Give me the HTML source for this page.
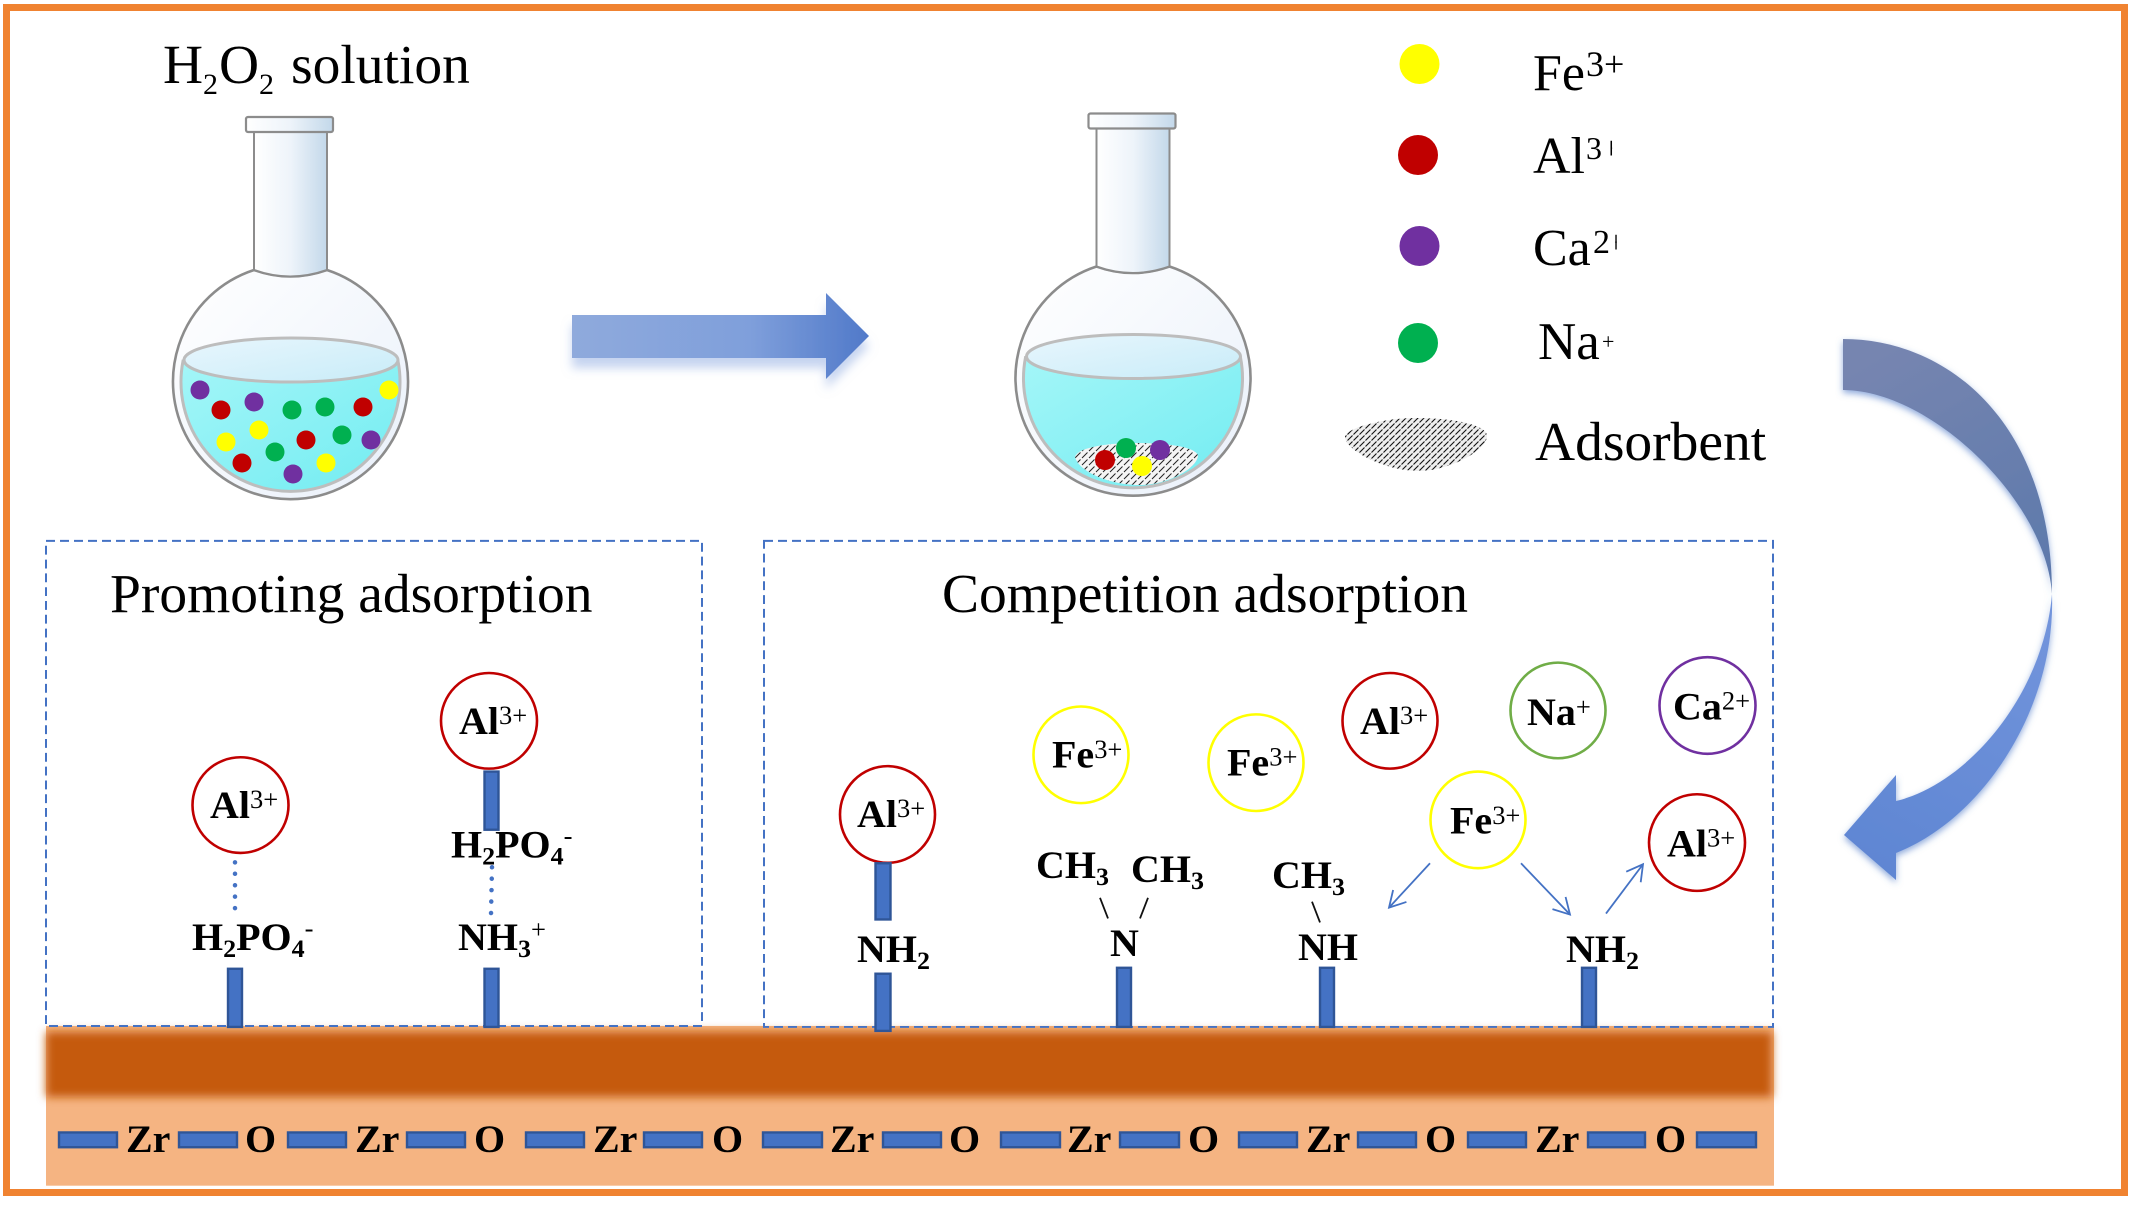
<!DOCTYPE html>
<html><head><meta charset="utf-8"><title>Adsorption diagram</title>
<style>
html,body{margin:0;padding:0;background:#fff}
svg{display:block}
text{font-family:"Liberation Serif",serif;fill:#000}
.t{font-size:55.5px}
.sub1{font-size:30px}
.l{font-size:52px}
.b{font-size:40px;font-weight:bold}
.s{font-size:26.5px;font-weight:normal}
.sb{font-size:26px;font-weight:bold}
.z{font-size:40px;font-weight:bold}
.bar{fill:#4472c4;stroke:#2f5597;stroke-width:2.4}
.ion{fill:none;stroke-width:2.6}
.dash{fill:none;stroke:#4472c4;stroke-width:2;stroke-dasharray:9 5}
.dot{fill:none;stroke:#4472c4;stroke-width:4.5;stroke-linecap:round;stroke-dasharray:.1 11.5}
.thin{fill:none;stroke:#4472c4;stroke-width:1.8;marker-end:url(#oh)}
</style></head><body>
<svg xmlns="http://www.w3.org/2000/svg" width="2133" height="1205" viewBox="0 0 2133 1205">
<defs>
<linearGradient id="neck" x1="0" x2="1" y1="0" y2="0"><stop offset="0" stop-color="#fff"/><stop offset=".5" stop-color="#eef4fa"/><stop offset="1" stop-color="#c3d8ea"/></linearGradient>
<linearGradient id="bulb" x1="0" x2="1" y1="0" y2="1"><stop offset="0" stop-color="#fff"/><stop offset="1" stop-color="#e9f0fa"/></linearGradient>
<linearGradient id="liq" x1="0" x2="1" y1="0" y2="1"><stop offset="0" stop-color="#a4f6f8"/><stop offset="1" stop-color="#72ecf1"/></linearGradient>
<linearGradient id="top" x1="0" x2="1" y1="0" y2="1"><stop offset="0" stop-color="#e8f6fd"/><stop offset="1" stop-color="#c8ecf8"/></linearGradient>
<linearGradient id="ar1" x1="0" x2="1" y1="0" y2="0"><stop offset="0" stop-color="#8faadc"/><stop offset=".6" stop-color="#7f9fdb"/><stop offset="1" stop-color="#5079c9"/></linearGradient>
<linearGradient id="ar2" gradientUnits="userSpaceOnUse" x1="1900" y1="340" x2="2050" y2="600"><stop offset="0" stop-color="#7685b0"/><stop offset="1" stop-color="#5b78ab"/></linearGradient>
<linearGradient id="ar3" gradientUnits="userSpaceOnUse" x1="2050" y1="600" x2="1900" y2="880"><stop offset="0" stop-color="#7395dc"/><stop offset="1" stop-color="#5f86d3"/></linearGradient>
<filter id="sh1" x="-10%" y="-30%" width="120%" height="180%"><feDropShadow dx="0" dy="10" stdDeviation="5" flood-color="#8aa8e0" flood-opacity=".5"/></filter>
<filter id="sh2" x="-20%" y="-10%" width="140%" height="120%"><feDropShadow dx="0" dy="3" stdDeviation="3.5" flood-color="#4472c4" flood-opacity=".6"/></filter>
<filter id="blur" x="-2%" y="-20%" width="104%" height="140%"><feGaussianBlur stdDeviation="4.5"/></filter>
<pattern id="hatch" width="6" height="6" patternUnits="userSpaceOnUse"><rect width="6" height="6" fill="#eeeeee"/><path d="M0 6L2.500 3.500M3.500 2.500L6 0M-1 1L1 -1M5 7L7 5" stroke="#111" stroke-width="1.1" fill="none"/></pattern>
<pattern id="hatch2" width="7" height="7" patternUnits="userSpaceOnUse"><rect width="7" height="7" fill="#f4f4f4"/><path d="M0 7L2.500 4.500M4 3L7 0M-1 1L1 -1M6 8L8 6" stroke="#222" stroke-width="1" fill="none"/></pattern>
<marker id="oh" markerUnits="userSpaceOnUse" markerWidth="26" markerHeight="26" refX="18" refY="10" orient="auto"><path d="M2 1L18 10L2 19" fill="none" stroke="#4472c4" stroke-width="1.8"/></marker>
<clipPath id="c1"><rect x="1610.500" y="140" width="1.600" height="30"/></clipPath>
<clipPath id="c2"><rect x="1615.200" y="232" width="1.600" height="30"/></clipPath>
<g id="flask">
<path d="M254 270A117.500 117.500 0 1 0 327 270Q290 283 254 270Z" fill="url(#bulb)" stroke="#8c8c8c" stroke-width="2.6"/>
<path d="M183 361A109.500 109.500 0 1 0 398 361Z" fill="url(#liq)" stroke="#bdbdbd" stroke-width="3"/>
<ellipse cx="291" cy="360" rx="107" ry="22" fill="url(#top)" stroke="#bdbdbd" stroke-width="3"/>
<path d="M254 132V270Q290 283 327 270V132Z" fill="url(#neck)" stroke="#8c8c8c" stroke-width="2"/>
<rect x="246" y="117" width="87" height="15" rx="2" fill="url(#neck)" stroke="#8c8c8c" stroke-width="2.2"/>
</g>
</defs>

<rect x="6.500" y="7.500" width="2118" height="1185" fill="#fff" stroke="#f08331" stroke-width="7"/>

<!-- flask 1 -->
<use href="#flask"/>
<g>
<circle cx="200" cy="390" r="9.500" fill="#7030a0"/><circle cx="221" cy="410" r="9.500" fill="#c00000"/><circle cx="254" cy="402" r="9.500" fill="#7030a0"/><circle cx="292" cy="410" r="9.500" fill="#00b050"/><circle cx="325" cy="407" r="9.500" fill="#00b050"/><circle cx="363" cy="407" r="9.500" fill="#c00000"/><circle cx="389" cy="390" r="9.500" fill="#ffff00"/><circle cx="259" cy="430" r="9.500" fill="#ffff00"/><circle cx="226" cy="442" r="9.500" fill="#ffff00"/><circle cx="306" cy="440" r="9.500" fill="#c00000"/><circle cx="342" cy="435" r="9.500" fill="#00b050"/><circle cx="371" cy="440" r="9.500" fill="#7030a0"/><circle cx="275" cy="452" r="9.500" fill="#00b050"/><circle cx="242" cy="463" r="9.500" fill="#c00000"/><circle cx="326" cy="463" r="9.500" fill="#ffff00"/><circle cx="293" cy="474" r="9.500" fill="#7030a0"/>
</g>
<text class="t" x="163" y="83">H</text><text class="sub1" x="203" y="94">2</text><text class="t" x="219" y="83">O</text><text class="sub1" x="259" y="94">2</text><text class="t" x="291" y="83">solution</text>

<!-- arrow 1 -->
<path d="M572 315H826V293L869 336L826 379V358H572Z" fill="url(#ar1)" filter="url(#sh1)"/>

<!-- flask 2 -->
<use href="#flask" x="842.500" y="-3.500"/>
<path d="M1075 457C1077 448 1105 443 1136 443C1168 443 1197 447 1198 456C1196 470 1165 485 1140 485C1110 485 1079 472 1075 457Z" fill="url(#hatch2)"/>
<circle cx="1105" cy="460" r="10" fill="#c00000"/><circle cx="1126" cy="448" r="10" fill="#00b050"/><circle cx="1160" cy="450" r="10" fill="#7030a0"/><circle cx="1142" cy="466" r="10" fill="#ffff00"/>

<!-- legend -->
<circle cx="1419.500" cy="64" r="20" fill="#ffff00"/>
<circle cx="1418" cy="155" r="20" fill="#c00000"/>
<circle cx="1419.500" cy="246" r="20" fill="#7030a0"/>
<circle cx="1418" cy="343" r="20" fill="#00b050"/>
<text class="l" x="1533" y="90">Fe</text><text x="1586" y="76" font-size="36">3+</text>
<text class="l" x="1533" y="173">Al</text><text x="1586" y="159" font-size="32">3</text><text x="1602.300" y="159" font-size="32" clip-path="url(#c1)">+</text>
<text class="l" x="1533" y="265">Ca</text><text x="1593" y="253" font-size="34">2</text><text x="1607" y="253" font-size="32" clip-path="url(#c2)">+</text>
<text class="l" x="1538" y="359" style="font-size:53px">Na</text><text x="1602" y="349" font-size="22">+</text>
<path d="M1345 437C1345 428 1385 418 1415 418C1455 418 1487 425 1487 436C1487 450 1450 471 1418 471C1385 471 1345 450 1345 437Z" fill="url(#hatch)"/>
<text class="t" x="1535" y="460">Adsorbent</text>

<!-- curved arrow -->
<g filter="url(#sh2)">
<path d="M1843 339C1950 339 2052 425 2052 594C2046 500 1930 390 1843 390Z" fill="url(#ar2)"/>
<path d="M2052 594C2056 706 1985 818 1896 853V880L1844 835L1896 775V801C1965 785 2043 698 2052 594Z" fill="url(#ar3)"/>
</g>

<!-- lower half, slightly compressed vertically to match the reference -->
<g transform="matrix(1 0 0 .986 0 7.420)">
<!-- substrate -->
<rect x="46" y="1033" width="1728" height="162" fill="#f5b482"/>
<rect x="46" y="1039" width="1726" height="66" fill="#c55a11" filter="url(#blur)"/>

<!-- panels -->
<rect class="dash" x="46" y="541" width="656" height="492"/>
<rect class="dash" x="764" y="541" width="1009" height="493"/>
<text class="t" x="110" y="613">Promoting adsorption</text>
<text class="t" x="942" y="613" textLength="526" lengthAdjust="spacingAndGlyphs">Competition adsorption</text>

<!-- left panel -->
<ellipse class="ion" cx="240.500" cy="809" rx="48" ry="48.500" stroke="#c00000"/>
<text class="b" x="210" y="822">Al<tspan class="s" dy="-10">3+</tspan></text>
<path class="dot" d="M235 867V915"/>
<text class="b" x="192" y="956">H<tspan class="sb" dy="7">2</tspan><tspan dy="-7">PO</tspan><tspan class="sb" dy="7">4</tspan><tspan class="s" dy="-20">-</tspan></text>
<rect class="bar" x="228" y="975" width="14" height="59"/>

<ellipse class="ion" cx="489" cy="723.500" rx="48" ry="48.500" stroke="#c00000"/>
<text class="b" x="459" y="737">Al<tspan class="s" dy="-10">3+</tspan></text>
<rect class="bar" x="484.500" y="775" width="14" height="59"/>
<text class="b" x="451" y="862">H<tspan class="sb" dy="7">2</tspan><tspan dy="-7">PO</tspan><tspan class="sb" dy="7">4</tspan><tspan class="s" dy="-20">-</tspan></text>
<path class="dot" d="M492 872L491 920"/>
<text class="b" x="458" y="956">NH<tspan class="sb" dy="7">3</tspan><tspan class="s" dy="-19">+</tspan></text>
<rect class="bar" x="484.500" y="975" width="14" height="59"/>

<!-- right panel -->
<ellipse class="ion" cx="887.500" cy="818.500" rx="47.500" ry="49" stroke="#c00000"/>
<text class="b" x="857" y="831">Al<tspan class="s" dy="-10">3+</tspan></text>
<rect class="bar" x="875.500" y="868" width="15" height="57"/>
<text class="b" x="857" y="968">NH<tspan class="sb" dy="7">2</tspan></text>
<rect class="bar" x="875.500" y="980" width="15" height="58"/>

<ellipse class="ion" cx="1081" cy="758" rx="47.500" ry="49" stroke="#ffff00"/>
<text class="b" x="1052" y="771">Fe<tspan class="s" dy="-10">3+</tspan></text>
<ellipse class="ion" cx="1256" cy="766" rx="47.500" ry="49" stroke="#ffff00"/>
<text class="b" x="1227" y="779">Fe<tspan class="s" dy="-10">3+</tspan></text>
<ellipse class="ion" cx="1390" cy="723.500" rx="47.500" ry="48.500" stroke="#c00000"/>
<text class="b" x="1360" y="737">Al<tspan class="s" dy="-10">3+</tspan></text>
<ellipse class="ion" cx="1558" cy="713" rx="47.500" ry="48.500" stroke="#70ad47"/>
<text class="b" x="1527" y="728">Na<tspan class="s" dy="-10">+</tspan></text>
<ellipse class="ion" cx="1707.500" cy="708" rx="48" ry="49" stroke="#7030a0"/>
<text class="b" x="1673" y="722">Ca<tspan class="s" dy="-10">2+</tspan></text>
<ellipse class="ion" cx="1478" cy="824" rx="47.500" ry="49" stroke="#ffff00"/>
<text class="b" x="1450" y="838">Fe<tspan class="s" dy="-10">3+</tspan></text>
<ellipse class="ion" cx="1697" cy="847" rx="48" ry="49" stroke="#c00000"/>
<text class="b" x="1667" y="861">Al<tspan class="s" dy="-10">3+</tspan></text>

<text class="b" x="1036" y="883">CH<tspan class="sb" dy="7">3</tspan></text>
<text class="b" x="1131" y="887">CH<tspan class="sb" dy="7">3</tspan></text>
<text class="b" x="1272" y="893">CH<tspan class="sb" dy="7">3</tspan></text>
<path d="M1100 903L1108 924M1148 903L1140 924M1312 907L1320 928" stroke="#111" stroke-width="1.800" fill="none"/>
<text class="b" x="1110" y="962">N</text>
<text class="b" x="1298" y="966">NH</text>
<text class="b" x="1566" y="968">NH<tspan class="sb" dy="7">2</tspan></text>
<rect class="bar" x="1117" y="974" width="14" height="60"/>
<rect class="bar" x="1320" y="974" width="14" height="60"/>
<rect class="bar" x="1582" y="974" width="14" height="60"/>
<path class="thin" d="M1430 868L1389 913"/>
<path class="thin" d="M1521 868L1570 920"/>
<path class="thin" d="M1606 919L1643 869"/>

<!-- Zr-O row -->
<g>
<rect class="bar" x="59" y="1141" width="58" height="15"/><rect class="bar" x="179" y="1141" width="58" height="15"/><rect class="bar" x="288" y="1141" width="58" height="15"/><rect class="bar" x="407" y="1141" width="58" height="15"/><rect class="bar" x="526" y="1141" width="58" height="15"/><rect class="bar" x="644" y="1141" width="58" height="15"/><rect class="bar" x="763" y="1141" width="59" height="15"/><rect class="bar" x="883" y="1141" width="58" height="15"/><rect class="bar" x="1001" y="1141" width="59" height="15"/><rect class="bar" x="1120" y="1141" width="59" height="15"/><rect class="bar" x="1239" y="1141" width="58" height="15"/><rect class="bar" x="1358" y="1141" width="58" height="15"/><rect class="bar" x="1468" y="1141" width="58" height="15"/><rect class="bar" x="1588" y="1141" width="57" height="15"/><rect class="bar" x="1697" y="1141" width="59" height="15"/>
</g>
<g>
<text class="z" x="126" y="1161">Zr</text><text class="z" x="245" y="1161">O</text>
<text class="z" x="355" y="1161">Zr</text><text class="z" x="474" y="1161">O</text>
<text class="z" x="593" y="1161">Zr</text><text class="z" x="712" y="1161">O</text>
<text class="z" x="830" y="1161">Zr</text><text class="z" x="949" y="1161">O</text>
<text class="z" x="1067" y="1161">Zr</text><text class="z" x="1188" y="1161">O</text>
<text class="z" x="1306" y="1161">Zr</text><text class="z" x="1425" y="1161">O</text>
<text class="z" x="1535" y="1161">Zr</text><text class="z" x="1655" y="1161">O</text>
</g>
</g>
</svg>
</body></html>
